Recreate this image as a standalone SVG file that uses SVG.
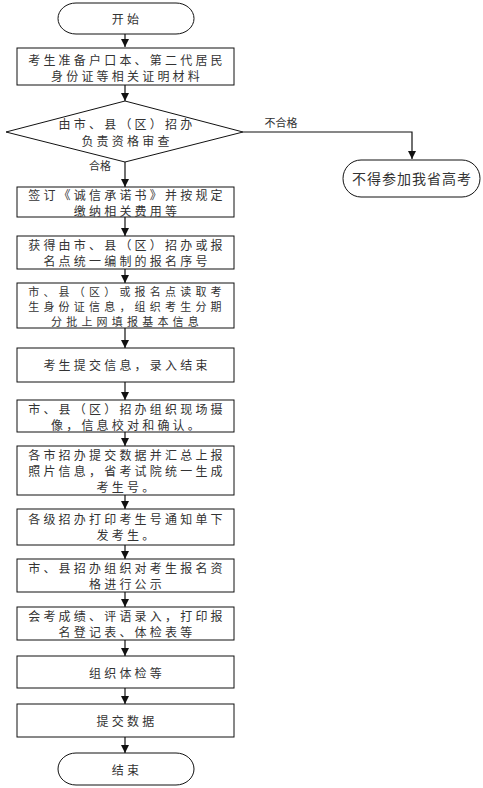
<svg xmlns="http://www.w3.org/2000/svg" width="483" height="788" viewBox="0 0 483 788">
<style>
.n{fill:#fff;stroke:#111;stroke-width:1}
.t{font-family:"Noto Sans CJK SC","Noto Sans",sans-serif;font-size:12px;fill:#333;letter-spacing:3.2px;text-anchor:middle;dominant-baseline:central}
.s{font-size:11px;letter-spacing:4.2px}
.l{font-family:"Noto Sans CJK SC","Noto Sans",sans-serif;font-size:11px;fill:#333;text-anchor:middle;dominant-baseline:central}
.c{fill:none;stroke:#111;stroke-width:1.2}
</style>
<defs>
<marker id="a" markerWidth="9" markerHeight="8" refX="8" refY="4" orient="auto" markerUnits="userSpaceOnUse">
<path d="M0,0 L8,4 L0,8 z" fill="#111"/>
</marker>
</defs>
<rect width="483" height="788" fill="#fff"/>
<g id="connectors">
<line class="c" x1="125" y1="34" x2="125" y2="47" marker-end="url(#a)"/>
<line class="c" x1="125" y1="85" x2="125" y2="101" marker-end="url(#a)"/>
<line class="c" x1="125" y1="162" x2="125" y2="187" marker-end="url(#a)"/>
<polyline class="c" points="243,132 412,132 412,159" marker-end="url(#a)"/>
<line class="c" x1="125" y1="217" x2="125" y2="236" marker-end="url(#a)"/>
<line class="c" x1="125" y1="269" x2="125" y2="283" marker-end="url(#a)"/>
<line class="c" x1="125" y1="328" x2="125" y2="348" marker-end="url(#a)"/>
<line class="c" x1="125" y1="382" x2="125" y2="400" marker-end="url(#a)"/>
<line class="c" x1="125" y1="432" x2="125" y2="446" marker-end="url(#a)"/>
<line class="c" x1="125" y1="495" x2="125" y2="509" marker-end="url(#a)"/>
<line class="c" x1="125" y1="545" x2="125" y2="559" marker-end="url(#a)"/>
<line class="c" x1="125" y1="592" x2="125" y2="607" marker-end="url(#a)"/>
<line class="c" x1="125" y1="640" x2="125" y2="656" marker-end="url(#a)"/>
<line class="c" x1="125" y1="688" x2="125" y2="704" marker-end="url(#a)"/>
<line class="c" x1="125" y1="737" x2="125" y2="753" marker-end="url(#a)"/>
<text class="l" x="281" y="122">不合格</text>
<text class="l" x="100" y="165">合格</text>
</g>
<g id="start">
<rect class="n" x="58" y="3" width="136" height="31" rx="18" ry="15.5"/>
<text class="t" x="127" y="18">开始</text>
</g>
<g id="n1">
<rect class="n" x="17" y="48" width="217" height="37"/>
<text class="t" x="127" y="59">考生准备户口本、第二代居民</text>
<text class="t" x="127" y="75">身份证等相关证明材料</text>
</g>
<g id="check">
<polygon class="n" points="125,101 243,132 125,162 6,132"/>
<text class="t" x="127" y="123">由市、县（区）招办</text>
<text class="t" x="127" y="140">负责资格审查</text>
</g>
<g id="reject">
<rect class="n" x="343" y="160" width="137" height="37" rx="18" ry="18.5"/>
<text class="t" x="412" y="178" style="font-size:14px;letter-spacing:1px">不得参加我省高考</text>
</g>
<g id="n2">
<rect class="n" x="17" y="187" width="217" height="30"/>
<text class="t" x="127" y="194">签订《诚信承诺书》并按规定</text>
<text class="t" x="127" y="210">缴纳相关费用等</text>
</g>
<g id="n3">
<rect class="n" x="17" y="236" width="217" height="33"/>
<text class="t" x="127" y="244">获得由市、县（区）招办或报</text>
<text class="t" x="127" y="260">名点统一编制的报名序号</text>
</g>
<g id="n4">
<rect class="n" x="17" y="283" width="217" height="45"/>
<text class="t s" x="127" y="290.5">市、县（区）或报名点读取考</text>
<text class="t s" x="127" y="305.5">生身份证信息，组织考生分期</text>
<text class="t s" x="127" y="320.5">分批上网填报基本信息</text>
</g>
<g id="n5">
<rect class="n" x="17" y="348" width="217" height="34"/>
<text class="t" x="127" y="364">考生提交信息，录入结束</text>
</g>
<g id="n6">
<rect class="n" x="17" y="400" width="217" height="32"/>
<text class="t" x="127" y="408">市、县（区）招办组织现场摄</text>
<text class="t" x="127" y="424">像，信息校对和确认。</text>
</g>
<g id="n7">
<rect class="n" x="17" y="446" width="217" height="49"/>
<text class="t" x="127" y="454">各市招办提交数据并汇总上报</text>
<text class="t" x="127" y="470">照片信息，省考试院统一生成</text>
<text class="t" x="127" y="486">考生号。</text>
</g>
<g id="n8">
<rect class="n" x="17" y="509" width="217" height="36"/>
<text class="t" x="127" y="518">各级招办打印考生号通知单下</text>
<text class="t" x="127" y="534">发考生。</text>
</g>
<g id="n9">
<rect class="n" x="17" y="559" width="217" height="33"/>
<text class="t" x="127" y="567">市、县招办组织对考生报名资</text>
<text class="t" x="127" y="583">格进行公示</text>
</g>
<g id="n10">
<rect class="n" x="17" y="607" width="217" height="33"/>
<text class="t" x="127" y="615">会考成绩、评语录入，打印报</text>
<text class="t" x="127" y="631">名登记表、体检表等</text>
</g>
<g id="n11">
<rect class="n" x="17" y="656" width="217" height="32"/>
<text class="t" x="127" y="672">组织体检等</text>
</g>
<g id="n12">
<rect class="n" x="17" y="704" width="217" height="33"/>
<text class="t" x="127" y="720">提交数据</text>
</g>
<g id="end">
<rect class="n" x="58" y="753" width="136" height="32" rx="18" ry="16"/>
<text class="t" x="127" y="769">结束</text>
</g>
</svg>
